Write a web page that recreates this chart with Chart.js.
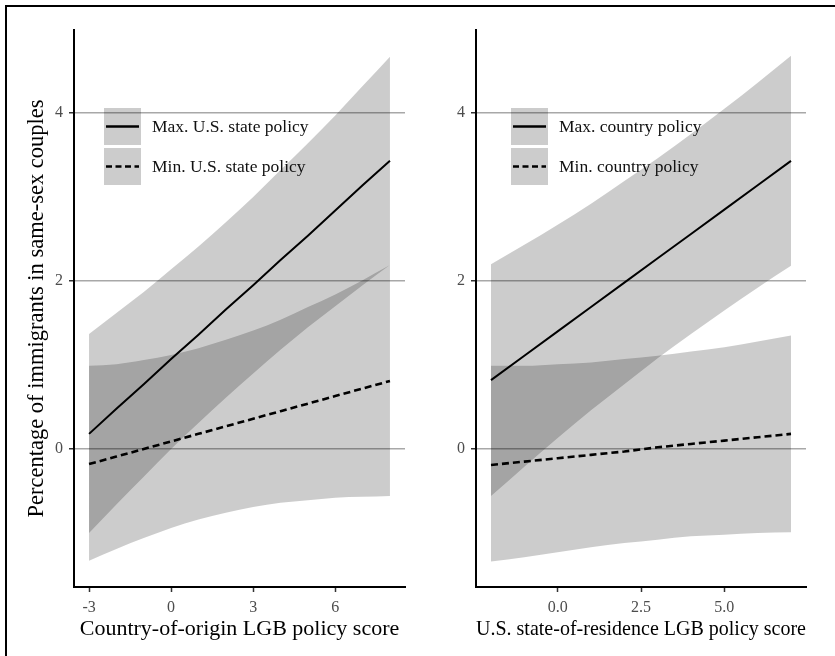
<!DOCTYPE html>
<html>
<head>
<meta charset="utf-8">
<title>Immigrants in same-sex couples by LGB policy score</title>
<script src="https://cdn.jsdelivr.net/npm/chart.js@4.4.1/dist/chart.umd.min.js"></script>
<style>
  html, body { margin: 0; padding: 0; background: #fff; }
  body { width: 835px; height: 656px; position: relative; overflow: hidden;
         font-family: "Liberation Serif", "Times New Roman", serif; }
  #frame { position: absolute; left: 5px; top: 5px; width: 900px; height: 700px;
           border-left: 2.4px solid #000; border-top: 2.4px solid #000; box-sizing: border-box; }
  canvas { position: absolute; top: 0; }
  #originCanvas { left: 0; }
  #residenceCanvas { left: 415px; }
  .legend { position: absolute; top: 108px; }
  #originLegendBox { left: 104px; }
  #residenceLegendBox { left: 511px; }
  .legend .row { display: flex; align-items: center; height: 37px; margin-bottom: 3px; }
  .legend svg { display: block; flex: none; }
  .legend span { margin-left: 11px; font-size: 17.5px; color: #111; white-space: nowrap; }
</style>
</head>
<body>
<div id="frame"></div>
<canvas id="originCanvas" width="415" height="656"></canvas>
<canvas id="residenceCanvas" width="420" height="656"></canvas>
<div id="originLegendBox" class="legend"></div>
<div id="residenceLegendBox" class="legend"></div>
<script>
// ---------- data ----------
// Left panel: predictions along the country-of-origin LGB policy score
const originScore        = [-3, -2, -1, 0, 1, 2, 3, 4, 5, 6, 7, 8];
const originMaxStateFit  = [0.18, 0.48, 0.77, 1.07, 1.36, 1.66, 1.95, 2.25, 2.54, 2.84, 3.14, 3.43];
const originMaxStateHigh = [1.37, 1.62, 1.87, 2.14, 2.41, 2.70, 3.00, 3.32, 3.64, 3.97, 4.32, 4.67];
const originMaxStateLow  = [-1.00, -0.66, -0.33, 0.00, 0.31, 0.61, 0.90, 1.18, 1.45, 1.70, 1.95, 2.19];
const originMinStateFit  = [-0.18, -0.09, 0.00, 0.09, 0.18, 0.27, 0.36, 0.45, 0.54, 0.63, 0.72, 0.81];
const originMinStateHigh = [0.99, 1.01, 1.06, 1.12, 1.20, 1.30, 1.41, 1.54, 1.69, 1.84, 2.01, 2.19];
const originMinStateLow  = [-1.33, -1.19, -1.06, -0.94, -0.84, -0.76, -0.69, -0.64, -0.61, -0.58, -0.57, -0.56];

// Right panel: predictions along the U.S. state-of-residence LGB policy score
const residenceScore          = [-2, -1, 0, 1, 2, 3, 4, 5, 6, 7];
const residenceMaxCountryFit  = [0.82, 1.11, 1.40, 1.69, 1.98, 2.27, 2.56, 2.85, 3.14, 3.43];
const residenceMaxCountryHigh = [2.20, 2.43, 2.67, 2.92, 3.19, 3.46, 3.75, 4.05, 4.36, 4.68];
const residenceMaxCountryLow  = [-0.56, -0.21, 0.13, 0.46, 0.77, 1.08, 1.37, 1.65, 1.92, 2.18];
const residenceMinCountryFit  = [-0.19, -0.15, -0.11, -0.07, -0.03, 0.02, 0.06, 0.10, 0.14, 0.18];
const residenceMinCountryHigh = [0.99, 0.99, 1.01, 1.03, 1.07, 1.11, 1.16, 1.21, 1.28, 1.35];
const residenceMinCountryLow  = [-1.34, -1.29, -1.23, -1.17, -1.12, -1.08, -1.04, -1.02, -1.00, -0.99];

// Axis ticks and labels
const yTickValues         = [0, 2, 4];
const yTickLabels         = ['0', '2', '4'];
const originTickValues    = [-3, 0, 3, 6];
const originTickLabels    = ['-3', '0', '3', '6'];
const residenceTickValues = [0, 2.5, 5];
const residenceTickLabels = ['0.0', '2.5', '5.0'];

const yAxisTitle         = 'Percentage of immigrants in same-sex couples';
const originAxisTitle    = 'Country-of-origin LGB policy score';
const residenceAxisTitle = 'U.S. state-of-residence LGB policy score';
const originLegend       = ['Max. U.S. state policy', 'Min. U.S. state policy'];
const residenceLegend    = ['Max. country policy', 'Min. country policy'];

// ---------- styling ----------
const SERIF = '"Liberation Serif", "Times New Roman", serif';
const RIBBON = 'rgba(0,0,0,0.2)';
const NONE = 'rgba(0,0,0,0)';
const SOLID_DASH = [];
const SHORT_DASH = [7, 4];

const pts = (xs, ys) => xs.map((x, i) => ({ x, y: ys[i] }));

// Legend rendered as HTML next to the canvas, built from the labelled datasets
const svgNS = 'http://www.w3.org/2000/svg';
const htmlLegend = {
  id: 'htmlLegend',
  afterUpdate(chart, args, opts) {
    const box = document.getElementById(opts.containerID);
    box.innerHTML = '';
    chart.data.datasets.forEach(ds => {
      if (!ds.label) return;
      const row = document.createElement('div');
      row.className = 'row';
      const svg = document.createElementNS(svgNS, 'svg');
      svg.setAttribute('width', '37');
      svg.setAttribute('height', '37');
      const rect = document.createElementNS(svgNS, 'rect');
      rect.setAttribute('width', '37');
      rect.setAttribute('height', '37');
      rect.setAttribute('fill', RIBBON);
      const line = document.createElementNS(svgNS, 'line');
      line.setAttribute('x1', '2'); line.setAttribute('x2', '35');
      line.setAttribute('y1', '18.5'); line.setAttribute('y2', '18.5');
      line.setAttribute('stroke', ds.borderColor);
      line.setAttribute('stroke-width', '2.5');
      if (ds.borderDash && ds.borderDash.length) line.setAttribute('stroke-dasharray', '6 3.5');
      svg.appendChild(rect);
      svg.appendChild(line);
      const text = document.createElement('span');
      text.textContent = ds.label;
      row.appendChild(svg);
      row.appendChild(text);
      box.appendChild(row);
    });
  }
};

function buildPanel(canvasId, cfg) {
  const ribbonEdge = (data, fill) => ({
    label: '', data, borderColor: NONE, borderWidth: 1, backgroundColor: RIBBON,
    fill, order: 1, pointRadius: 0, cubicInterpolationMode: 'monotone'
  });
  const datasets = [
    { label: cfg.legend[0], data: pts(cfg.x, cfg.maxFit), borderColor: '#000',
      borderWidth: 2, borderDash: SOLID_DASH, fill: false, order: 0, pointRadius: 0 },
    { label: cfg.legend[1], data: pts(cfg.x, cfg.minFit), borderColor: '#000',
      borderWidth: 2.6, borderDash: SHORT_DASH, fill: false, order: 0, pointRadius: 0 },
    ribbonEdge(pts(cfg.x, cfg.maxHigh), false),
    ribbonEdge(pts(cfg.x, cfg.maxLow), 2),
    ribbonEdge(pts(cfg.x, cfg.minHigh), false),
    ribbonEdge(pts(cfg.x, cfg.minLow), 4)
  ];

  return new Chart(document.getElementById(canvasId), {
    type: 'line',
    data: { datasets },
    plugins: [htmlLegend],
    options: {
      responsive: false,
      animation: false,
      events: [],
      layout: { padding: { top: 30, right: cfg.padRight, left: 0, bottom: 0 } },
      plugins: {
        legend: { display: false },
        tooltip: { enabled: false },
        htmlLegend: { containerID: cfg.legendBox }
      },
      scales: {
        x: {
          type: 'linear',
          min: cfg.xMin, max: cfg.xMax,
          afterBuildTicks: s => { s.ticks = cfg.xTicks.map(v => ({ value: v })); },
          afterFit: s => { s.height = 69; },
          ticks: {
            callback: (v, i) => cfg.xLabels[i],
            color: '#4d4d4d', font: { family: SERIF, size: 16 },
            padding: 6, maxRotation: 0, autoSkip: false
          },
          grid: { drawOnChartArea: false, drawTicks: true, tickLength: 5,
                  tickColor: '#333', tickWidth: 1.5 },
          border: { display: true, color: '#000', width: 2 },
          title: { display: true, text: cfg.xTitle, color: '#000',
                   font: { family: SERIF, size: 22 }, padding: { top: 0, bottom: 14 } }
        },
        y: {
          type: 'linear',
          min: -1.643, max: 4.988,
          afterBuildTicks: s => { s.ticks = yTickValues.map(v => ({ value: v })); },
          afterFit: s => { s.width = cfg.yWidth; },
          ticks: {
            callback: (v, i) => yTickLabels[i],
            color: '#4d4d4d', font: { family: SERIF, size: 16 }, padding: 6
          },
          grid: { drawOnChartArea: true, color: '#a8a8a8', lineWidth: 1.5,
                  drawTicks: true, tickLength: 5, tickColor: '#333', tickWidth: 1.5 },
          border: { display: true, color: '#000', width: 2 },
          title: { display: cfg.showYTitle, text: yAxisTitle, color: '#000',
                   font: { family: SERIF, size: 22.5 }, padding: { top: 24, bottom: 0 } }
        }
      }
    }
  });
}

buildPanel('originCanvas', {
  x: originScore,
  maxFit: originMaxStateFit, maxHigh: originMaxStateHigh, maxLow: originMaxStateLow,
  minFit: originMinStateFit, minHigh: originMinStateHigh, minLow: originMinStateLow,
  xMin: -3.55, xMax: 8.55,
  xTicks: originTickValues, xLabels: originTickLabels,
  xTitle: originAxisTitle, legend: originLegend, legendBox: 'originLegendBox',
  yWidth: 74, padRight: 10, showYTitle: true
});

buildPanel('residenceCanvas', {
  x: residenceScore,
  maxFit: residenceMaxCountryFit, maxHigh: residenceMaxCountryHigh, maxLow: residenceMaxCountryLow,
  minFit: residenceMinCountryFit, minHigh: residenceMinCountryHigh, minLow: residenceMinCountryLow,
  xMin: -2.45, xMax: 7.45,
  xTicks: residenceTickValues, xLabels: residenceTickLabels,
  xTitle: residenceAxisTitle, legend: residenceLegend, legendBox: 'residenceLegendBox',
  yWidth: 61, padRight: 29, showYTitle: false
});
</script>
</body>
</html>
